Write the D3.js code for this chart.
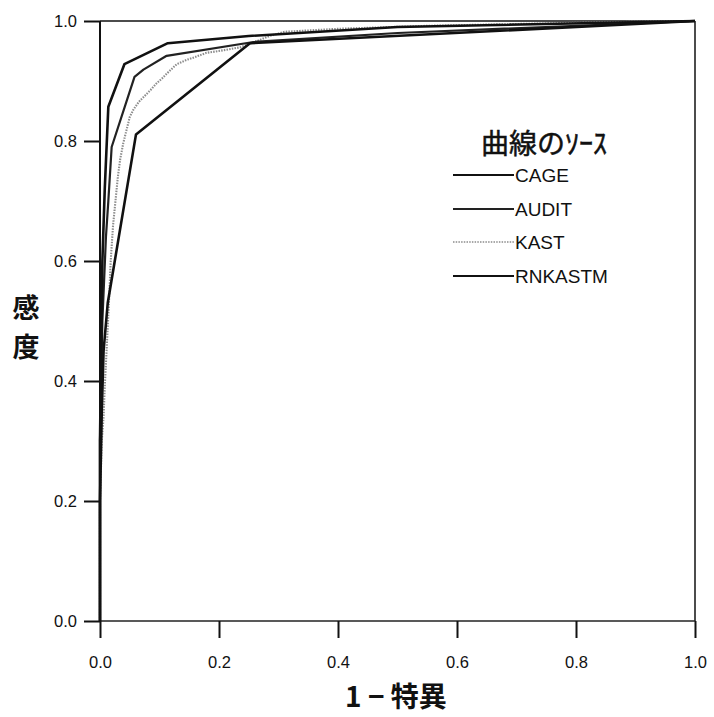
<!DOCTYPE html>
<html><head><meta charset="utf-8">
<script src="https://cdn.jsdelivr.net/npm/d3@7"></script>
<style>
html,body{margin:0;padding:0;background:#fff;}
svg{display:block;}
</style></head>
<body>
<svg id="chart" width="714" height="717"></svg>
<script>
// ---- data ----
const xTicks = [0.0, 0.2, 0.4, 0.6, 0.8, 1.0];
const yTicks = [0.0, 0.2, 0.4, 0.6, 0.8, 1.0];
const seriesNames = ["CAGE", "AUDIT", "KAST", "RNKASTM"];
const cage = [[0,0],[0,0.3],[0.004,0.6],[0.008,0.72],[0.014,0.857],[0.041,0.928],[0.114,0.963],[0.25,0.975],[0.5,0.99],[1,1]];
const audit = [[0,0],[0,0.3],[0.004,0.5],[0.01,0.64],[0.014,0.7],[0.0196,0.79],[0.058,0.907],[0.073,0.919],[0.112,0.942],[0.258,0.965],[0.5,0.98],[1,1]];
const kast = [[0,0],[0,0.2],[0.003,0.3],[0.006,0.34],[0.008,0.39],[0.012,0.47],[0.015,0.53],[0.018,0.6],[0.022,0.66],[0.025,0.69],[0.03,0.74],[0.034,0.77],[0.039,0.796],[0.045,0.82],[0.05,0.84],[0.056,0.852],[0.065,0.865],[0.075,0.875],[0.085,0.885],[0.095,0.896],[0.105,0.905],[0.115,0.915],[0.129,0.928],[0.145,0.935],[0.16,0.94],[0.179,0.947],[0.2,0.95],[0.235,0.956],[0.26,0.965],[0.285,0.975],[0.31,0.982],[0.4,0.987],[0.55,0.992],[0.7,0.995],[0.85,0.998],[1,1]];
const rnkastm = [[0,0],[0,0.2],[0.003,0.35],[0.006,0.45],[0.013,0.53],[0.0605,0.811],[0.252,0.963],[1,1]];
const seriesData = [cage, audit, kast, rnkastm];
const xTitle = "1 − 特異";
const yTitle = ["感", "度"];
const legendTitle = "曲線のｿｰｽ";

// ---- styles ----
const styles = [
  {stroke:"#111", width:2.6, dash:null},
  {stroke:"#222", width:2.2, dash:null},
  {stroke:"#8c8c8c", width:2.1, dash:"1.5,1.2"},
  {stroke:"#111", width:2.6, dash:null}
];

const svg = d3.select("#chart");
const L = 100, R = 695, T = 21, B = 621;
const x = d3.scaleLinear().domain([0,1]).range([L,R]);
const y = d3.scaleLinear().domain([0,1]).range([B,T]);
const font = "'Liberation Sans', Arial, sans-serif";
const cjk = "'Noto Sans CJK JP', 'Noto Sans CJK SC', sans-serif";

// frame
svg.append("line").attr("x1",L).attr("x2",R).attr("y1",T).attr("y2",T).attr("stroke","#111").attr("stroke-width",1.5);
svg.append("line").attr("x1",R).attr("x2",R).attr("y1",T).attr("y2",B).attr("stroke","#111").attr("stroke-width",1.5);
svg.append("line").attr("x1",L).attr("x2",R).attr("y1",B).attr("y2",B).attr("stroke","#222").attr("stroke-width",1.5);
svg.append("line").attr("x1",L).attr("x2",L).attr("y1",T).attr("y2",B).attr("stroke","#111").attr("stroke-width",2);

// axes
const xAxis = d3.axisBottom(x).tickValues(xTicks).tickFormat(d3.format(".1f")).tickSize(17).tickPadding(18);
const gx = svg.append("g").attr("transform",`translate(0,${B})`).call(xAxis);
gx.select(".domain").remove();
gx.selectAll(".tick line").attr("stroke","#111").attr("stroke-width",2);
gx.selectAll(".tick text").attr("font-family",font).attr("font-size",16.5).attr("fill","#111");

const yAxis = d3.axisLeft(y).tickValues(yTicks).tickFormat(d3.format(".1f")).tickSize(16).tickPadding(7);
const gy = svg.append("g").attr("transform",`translate(${L},0)`).call(yAxis);
gy.select(".domain").remove();
gy.selectAll(".tick line").attr("stroke","#111").attr("stroke-width",2);
gy.selectAll(".tick text").attr("font-family",font).attr("font-size",16.5).attr("fill","#111");

// curves
const line = d3.line().x(d=>x(d[0])).y(d=>y(d[1]));
const order = [2,1,3,0];
order.forEach(i=>{
  const s = styles[i];
  const p = svg.append("path").datum(seriesData[i]).attr("d",line)
    .attr("fill","none").attr("stroke",s.stroke).attr("stroke-width",s.width)
    .attr("stroke-linejoin","round");
  if (s.dash) p.attr("stroke-dasharray",s.dash);
});

// titles
svg.append("text").attr("x",396).attr("y",707).attr("text-anchor","middle")
  .attr("font-family",cjk).attr("font-weight","bold").attr("font-size",28).attr("fill","#111").text(xTitle);
yTitle.forEach((c,i)=>{
  svg.append("text").attr("x",26).attr("y",318+i*39).attr("text-anchor","middle")
    .attr("font-family",cjk).attr("font-weight","bold").attr("font-size",27).attr("fill","#111").text(c);
});

// legend
svg.append("text").attr("x",544).attr("y",154).attr("text-anchor","middle")
  .attr("font-family",cjk).attr("font-size",28).attr("fill","#111")
  .attr("stroke","#111").attr("stroke-width",0.5).text(legendTitle);
const legY = [175, 209, 242, 276];
seriesNames.forEach((n,i)=>{
  const s = styles[i];
  const l = svg.append("line").attr("x1",453).attr("x2",514).attr("y1",legY[i]).attr("y2",legY[i])
    .attr("stroke",s.stroke).attr("stroke-width",s.width*0.8);
  if (s.dash) l.attr("stroke-dasharray",s.dash);
  svg.append("text").attr("x",515).attr("y",legY[i]+7).attr("font-family",font).attr("font-size",19)
    .attr("fill","#111").text(n);
});
</script>
</body></html>
